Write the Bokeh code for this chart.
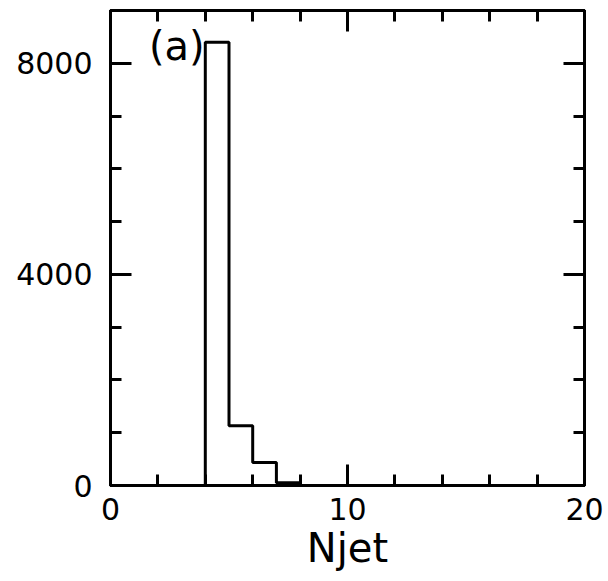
from bokeh.plotting import figure
from bokeh.models import Range1d, FixedTicker, LinearAxis, Label
from bokeh.embed import file_html
from bokeh.resources import INLINE

# data
bin_edges = [4, 5, 6, 7, 8]
counts = [8400, 1130, 435, 50]
x_major = [0, 10, 20]
x_minor = list(range(0, 21, 2))
y_major = [0, 4000, 8000]
y_minor = list(range(0, 9001, 1000))
panel_label = "(a)"
x_title = "Njet"

FONT = "DejaVu Sans"

p = figure(width=608, height=581, output_backend="svg", toolbar_location=None,
           x_range=Range1d(0, 20), y_range=Range1d(0, 9000),
           x_axis_location=None, y_axis_location=None,
           min_border_left=110, min_border_right=24, min_border_top=10, min_border_bottom=96)
p.grid.visible = False
p.outline_line_color = "black"
p.outline_line_width = 3
p.background_fill_color = "white"
p.border_fill_color = "white"

def style(ax, labels=True):
    ax.axis_line_width = 3
    ax.axis_line_color = "black"
    ax.major_tick_in = 21
    ax.major_tick_out = 0
    ax.minor_tick_in = 11
    ax.minor_tick_out = 0
    ax.major_tick_line_width = 3
    ax.minor_tick_line_width = 3
    ax.major_tick_line_color = "black"
    ax.minor_tick_line_color = "black"
    if labels:
        ax.major_label_text_font = FONT
        ax.major_label_text_font_size = "30px"
        ax.major_label_text_color = "black"
    else:
        ax.major_label_text_font_size = "0px"
        ax.major_label_text_color = None

xt = FixedTicker(ticks=x_major, minor_ticks=x_minor)
yt = FixedTicker(ticks=y_major, minor_ticks=y_minor)

bottom = LinearAxis(ticker=xt, axis_label=x_title)
style(bottom)
bottom.major_label_standoff = 12
bottom.axis_label_text_font = FONT
bottom.axis_label_text_font_size = "40px"
bottom.axis_label_text_font_style = "normal"
bottom.axis_label_text_color = "black"
bottom.axis_label_standoff = 2
p.add_layout(bottom, "below")

top = LinearAxis(ticker=xt)
style(top, labels=False)
p.add_layout(top, "above")

left = LinearAxis(ticker=yt)
style(left)
left.major_label_standoff = 18
p.add_layout(left, "left")

right = LinearAxis(ticker=yt)
style(right, labels=False)
p.add_layout(right, "right")

# histogram outline built from bin edges and counts
xs = [bin_edges[0]]
ys = [0]
for i, c in enumerate(counts):
    xs += [bin_edges[i], bin_edges[i + 1]]
    ys += [c, c]
xs.append(bin_edges[-1])
ys.append(0)
p.line(xs, ys, line_color="black", line_width=3)

p.add_layout(Label(x=2.8, y=8330, text=panel_label, text_font=FONT,
                   text_font_size="40px", text_align="center", text_baseline="middle",
                   text_color="black"))

open("out.html", "w").write(file_html(p, INLINE))
